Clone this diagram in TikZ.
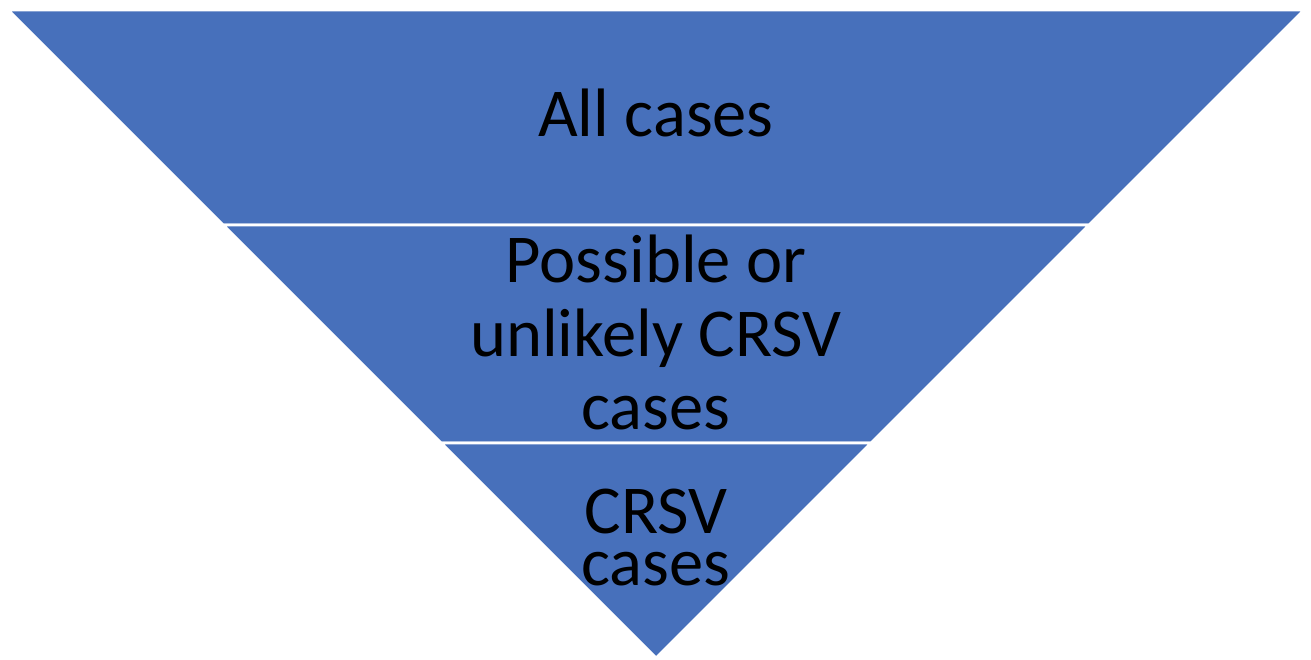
\documentclass[tikz,border=0pt]{standalone}
\usepackage{fontspec}
\setmainfont{Carlito}
\usetikzlibrary{calc,positioning}
\definecolor{bandblue}{HTML}{4770BB}
\tikzset{
  bandfill/.style={fill=bandblue,draw=white,line width=1.6pt,line join=miter},
  bandtext/.style={align=center,text=black,font=\fontsize{39}{42}\selectfont}
}
% one band of the funnel: top y, bottom y
\newcommand\bandbox[2]{%
  \filldraw[bandfill] ({13.16-#1},#1) -- ({13.08+#1},#1) -- ({13.08+#2},#2) -- ({13.16-#2},#2) -- cycle
}
\begin{document}
\begin{tikzpicture}
        \useasboundingbox (0,0) rectangle (26.22,13.2);
        % The bands
        \bandbox{13.0}{8.7};
        \bandbox{8.7}{4.34};
        \filldraw[bandfill] ({13.16-4.34},4.34) -- ({13.08+4.34},4.34) -- (13.12,0.04) -- cycle;

        % The labels
        \node[bandtext] (all) at (13.12, 10.95) {All cases};
        \node[bandtext] (possible) at (13.12, 6.55) {Possible or\\unlikely CRSV\\cases};
        \node[bandtext,font=\fontsize{39}{30}\selectfont] (crsv) at (13.12, 2.45) {CRSV\\cases};
    \end{tikzpicture}
\end{document}
